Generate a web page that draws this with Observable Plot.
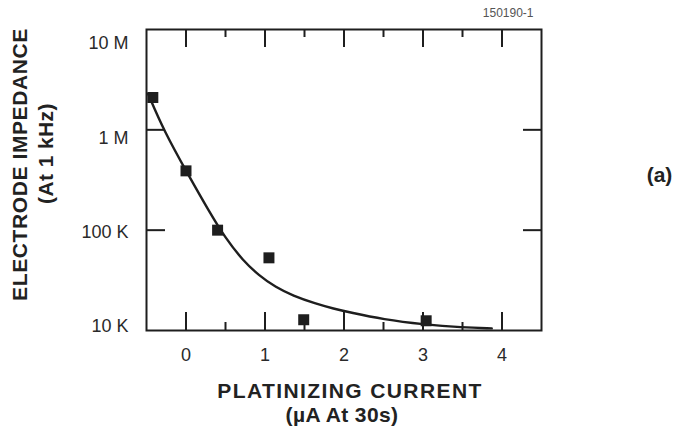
<!DOCTYPE html>
<html>
<head>
<meta charset="utf-8">
<script src="https://cdn.jsdelivr.net/npm/d3@7"></script>
<script src="https://cdn.jsdelivr.net/npm/@observablehq/plot@0.6"></script>
<style>
  html, body { margin: 0; padding: 0; background: #fff; }
  #chart svg { display: block; overflow: visible; }
</style>
</head>
<body>
<div id="chart"></div>
<script>
// Measured data points (platinizing current µA, impedance Ω)
const pointX = [-0.42, 0.0, 0.40, 1.05, 1.49, 3.04];
const pointZ = [2.1e6, 3.9e5, 1.0e5, 5.3e4, 1.28e4, 1.25e4];

// Fitted curve
const curveX = [-0.48, -0.28, 0.03, 0.29, 0.50, 0.72, 0.92, 1.14, 1.35, 1.64, 1.87, 2.08, 2.5, 3.0, 3.5, 3.87];
const curveZ = [2.29e6, 9.8e5, 3.55e5, 1.55e5, 8.3e4, 5.0e4, 3.55e4, 2.68e4, 2.23e4, 1.85e4, 1.65e4, 1.51e4, 1.29e4, 1.15e4, 1.07e4, 1.05e4];

// Ticks and labels
const majorX = [0, 1, 2, 3, 4];
const minorX = [0.5, 1.5, 2.5, 3.5];
const yTicks = [1e7, 1e6, 1e5, 1e4];
const yTickLabels = ["10 M", "1 M", "100 K", "10 K"];
const innerYTicks = [1e6, 1e5];

const yTitle1 = "ELECTRODE IMPEDANCE";
const yTitle2 = "(At 1 kHz)";
const xTitle1 = "PLATINIZING CURRENT";
const xTitle2 = "(µA At 30s)";
const panelLabel = "(a)";
const figId = "150190-1";

const points = pointX.map((x, i) => ({x, z: pointZ[i]}));
const curve = curveX.map((x, i) => ({x, z: curveZ[i]}));

const W = 676, H = 435;
const mL = 146, mR = 135, mT = 29, mB = 105;
const innerW = W - mL - mR, innerH = H - mT - mB;
const ink = "#1e1e1e";
const font = "'Liberation Sans', Arial, Helvetica, sans-serif";
const labelOffsets = [14, 8, 2, -4];

const yAxes = yTicks.map((t, i) => Plot.axisY([t], {
  anchor: "left", tickSize: 0, tickPadding: 18, fontSize: 18, fill: "#2a2a2a",
  dy: labelOffsets[i], tickFormat: () => yTickLabels[i], label: null
}));

const chart = Plot.plot({
  width: W, height: H,
  marginLeft: mL, marginRight: mR, marginTop: mT, marginBottom: mB,
  style: {fontFamily: font, background: "#fff", color: ink},
  x: {domain: [-0.5, 4.5]},
  y: {type: "log", domain: [1e4, 1e7]},
  marks: [
    Plot.axisX(majorX, {anchor: "bottom", tickSize: 0, tickPadding: 18, fontSize: 18, fill: "#2a2a2a", label: null}),
    ...yAxes,
    // bottom ticks (inward)
    Plot.ruleX(majorX, {x: d => d, insetTop: innerH - 18, stroke: ink, strokeWidth: 2}),
    Plot.ruleX(minorX, {x: d => d, insetTop: innerH - 8, stroke: ink, strokeWidth: 2}),
    // top ticks (inward)
    Plot.ruleX(majorX, {x: d => d, insetBottom: innerH - 18, stroke: ink, strokeWidth: 2}),
    Plot.ruleX(minorX, {x: d => d, insetBottom: innerH - 8, stroke: ink, strokeWidth: 2}),
    // left / right y ticks (inward)
    Plot.ruleY(innerYTicks, {y: d => d, insetRight: innerW - 19, stroke: ink, strokeWidth: 2}),
    Plot.ruleY(innerYTicks, {y: d => d, insetLeft: innerW - 18, stroke: ink, strokeWidth: 2}),
    Plot.frame({stroke: ink, strokeWidth: 2}),
    Plot.line(curve, {x: "x", y: "z", curve: "basis", stroke: ink, strokeWidth: 2.4}),
    Plot.dot(points, {x: "x", y: "z", symbol: "square", r: 6.2, fill: ink, stroke: "none"}),
    // titles
    Plot.text([yTitle1], {text: d => d, frameAnchor: "left", dx: -126, dy: -15.5, rotate: -90,
      fontSize: 21, fontWeight: "bold", fill: "#222", textAnchor: "middle", lineAnchor: "middle"}),
    Plot.text([yTitle2], {text: d => d, frameAnchor: "left", dx: -100, dy: -26.5, rotate: -90,
      fontSize: 21, fontWeight: "bold", fill: "#222", textAnchor: "middle", lineAnchor: "middle"}),
    Plot.text([xTitle1], {text: d => d, frameAnchor: "bottom", dx: 6, dy: 61,
      fontSize: 21, fontWeight: "bold", fill: "#222", textAnchor: "middle", lineAnchor: "middle"}),
    Plot.text([xTitle2], {text: d => d, frameAnchor: "bottom", dx: -2, dy: 85,
      fontSize: 21, fontWeight: "bold", fill: "#222", textAnchor: "middle", lineAnchor: "middle"}),
    Plot.text([panelLabel], {text: d => d, frameAnchor: "right", dx: 118, dy: -4.5,
      fontSize: 21, fontWeight: "bold", fill: "#222", textAnchor: "middle", lineAnchor: "middle"}),
    Plot.text([figId], {text: d => d, frameAnchor: "top-right", dx: -8, dy: -16,
      fontSize: 12, fill: "#555", textAnchor: "end", lineAnchor: "middle"})
  ]
});

document.getElementById("chart").appendChild(chart);
// slight letter spacing on bold titles to match the source typography
chart.querySelectorAll("g[aria-label='text']").forEach(g => {
  const t = g.textContent;
  if (t === xTitle1) g.setAttribute("letter-spacing", "1.4");
  else if (t === yTitle1) g.setAttribute("letter-spacing", "0.6");
  else if (t === xTitle2 || t === yTitle2) g.setAttribute("letter-spacing", "0.4");
});
</script>
</body>
</html>
